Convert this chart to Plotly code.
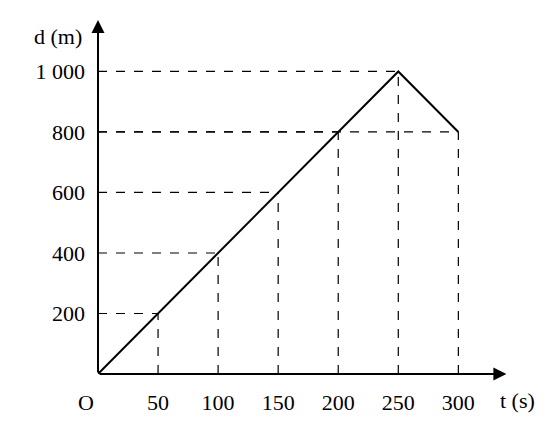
import plotly.graph_objects as go

t = [0, 250, 300]
d = [0, 1000, 800]
x_ticks = [50, 100, 150, 200, 250, 300]
y_ticks = [200, 400, 600, 800, 1000]
y_labels = ["200", "400", "600", "800", "1 000"]
guide_points = [(50, 200), (100, 400), (150, 600), (200, 800), (250, 1000), (300, 800)]

font = dict(family="Liberation Serif", size=22, color="black")
fig = go.Figure()
fig.add_trace(go.Scatter(x=t, y=d, mode="lines", line=dict(color="black", width=2), showlegend=False))

shapes = []
dash = dict(color="black", width=1.2, dash="dash")
for px_, py_ in guide_points:
    shapes.append(dict(type="line", x0=0, y0=py_, x1=px_, y1=py_, line=dash))
    shapes.append(dict(type="line", x0=px_, y0=0, x1=px_, y1=py_, line=dash))
fig.update_layout(shapes=shapes)

# axes with arrows
fig.add_annotation(x=340, y=0, ax=0, ay=0, axref="x", ayref="y", showarrow=True,
                   arrowhead=2, arrowsize=1.3, arrowwidth=2, arrowcolor="black", text="")
fig.add_annotation(x=0, y=1170, ax=0, ay=0, axref="x", ayref="y", showarrow=True,
                   arrowhead=2, arrowsize=1.3, arrowwidth=2, arrowcolor="black", text="")
fig.add_annotation(x=0, y=1170, text="d (m)", showarrow=False, font=font,
                   xanchor="right", yanchor="top", xshift=-14, yshift=-2)
fig.add_annotation(x=0.97, xref="paper", y=0, text="t (s)", showarrow=False, font=font,
                   xanchor="left", yanchor="top", yshift=-12)
fig.add_annotation(x=0, y=0, text="O", showarrow=False, font=font,
                   xanchor="right", yanchor="top", xshift=-2, yshift=-14)

fig.update_xaxes(range=[0, 343], tickvals=x_ticks, ticktext=[str(v) for v in x_ticks],
                 showgrid=False, zeroline=False, showline=False, ticks="",
                 tickfont=font, ticklabelstandoff=13)
fig.update_yaxes(range=[0, 1180], tickvals=y_ticks, ticktext=y_labels,
                 showgrid=False, zeroline=False, showline=False, ticks="",
                 tickfont=font, ticklabelstandoff=12)
fig.update_layout(width=559, height=422, margin=dict(l=90, r=57, t=9, b=56),
                  plot_bgcolor="white", paper_bgcolor="white")
fig.write_html("out.html")
